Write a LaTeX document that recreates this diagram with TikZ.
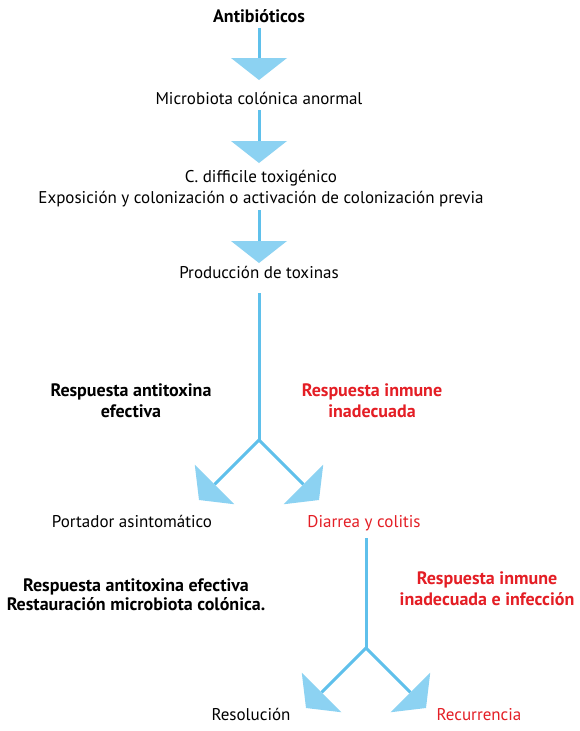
\documentclass[tikz,border=0pt]{standalone}
\usepackage{fontspec}
\setmainfont{PT Sans}
\usetikzlibrary{arrows.meta}
\definecolor{lineblue}{RGB}{95,192,235}
\definecolor{headblue}{RGB}{140,210,242}
\definecolor{txtred}{RGB}{228,30,37}
\tikzset{
  lbl/.style={anchor=base, inner sep=0pt, align=center, font=\fontsize{17}{21}\selectfont},
  blbl/.style={lbl, font=\fontsize{18}{21}\selectfont\bfseries},
  rlbl/.style={lbl, text=txtred},
  rblbl/.style={blbl, text=txtred},
  flowline/.style={draw=lineblue, line width=3pt},
  flow/.style={flowline, -{Triangle[width=56pt,length=22pt,line width=0pt,color=headblue]}}
}
\begin{document}
\begin{tikzpicture}[x=1pt,y=-1pt]
\fill[white] (0,0) rectangle (580,731);
\useasboundingbox (0,0) rectangle (580,731);

\node[blbl] (ant) at (259,22) {Antibióticos};
\node[lbl] (micro) at (259,104) {Microbiota colónica anormal};
\node[lbl] (cdiff) at (261,203) {C. difficile toxigénico\\Exposición y colonización o activación de colonización previa};
\node[lbl] (prod) at (259,278) {Producción de toxinas};
\node[blbl] (respA) at (131,417) {Respuesta antitoxina\\efectiva};
\node[rblbl] (respI) at (372,417) {Respuesta inmune\\inadecuada};
\node[lbl] (port) at (132,527) {Portador asintomático};
\node[rlbl] (dia) at (364,527) {Diarrea y colitis};
\node[blbl, font=\fontsize{18}{19}\selectfont\bfseries] (respB) at (136,610) {Respuesta antitoxina efectiva\\Restauración microbiota colónica.};
\node[rblbl] (respC) at (487,605) {Respuesta inmune\\inadecuada e infección};
\node[lbl] (resol) at (251,720) {Resolución};
\node[rlbl] (recur) at (479,720) {Recurrencia};

\coordinate (b1) at (259,440);
\coordinate (t1l) at (199,500);
\coordinate (t1r) at (319,500);
\coordinate (b2) at (366,648);
\coordinate (t2l) at (306,708);
\coordinate (t2r) at (426,708);

\draw[flow] ([yshift=-6pt]ant.base) -- ([yshift=24pt]micro.base);
\draw[flow] ([yshift=-6pt]micro.base) -- ([xshift=-2pt,yshift=40pt]cdiff.base);
\draw[flow] ([xshift=-2pt,yshift=-7pt]cdiff.base) -- ([yshift=15pt]prod.base);
\draw[flowline] ([yshift=-15pt]prod.base) -- (b1);
\draw[flow] (b1) -- (t1l);
\draw[flow] (b1) -- (t1r);
\draw[flowline] ([xshift=2pt,yshift=-11pt]dia.base) -- (b2);
\draw[flow] (b2) -- (t2l);
\draw[flow] (b2) -- (t2r);
\end{tikzpicture}
\end{document}
